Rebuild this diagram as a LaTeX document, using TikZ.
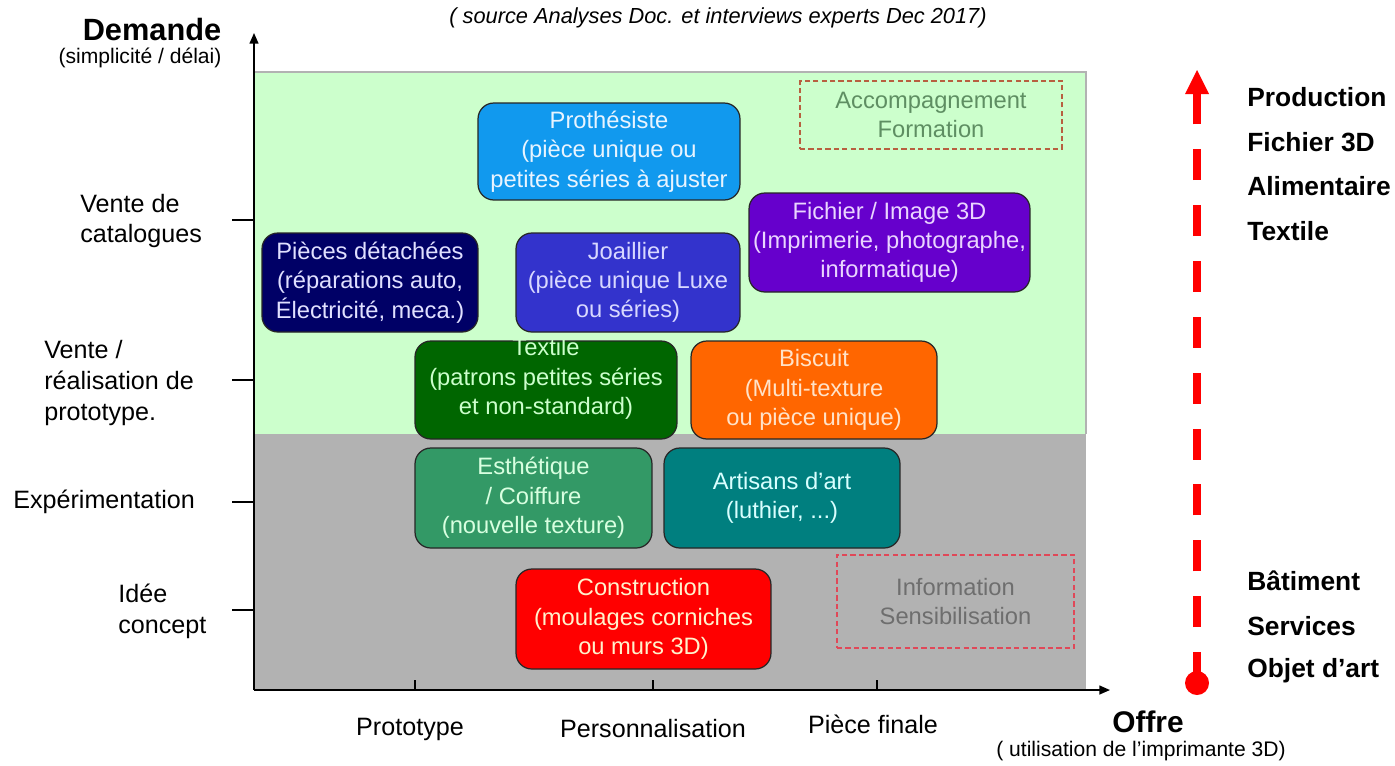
\documentclass[tikz,border=0pt]{standalone}
\usepackage{fontspec}
\setmainfont{Liberation Sans}
\usetikzlibrary{arrows.meta}
\definecolor{bggreen}{HTML}{CCFFCC}
\definecolor{bggray}{HTML}{B2B2B2}
\definecolor{cProt}{HTML}{1199EE}
\definecolor{cPiec}{HTML}{000066}
\definecolor{cJoai}{HTML}{3333CC}
\definecolor{cFich}{HTML}{6600CC}
\definecolor{cText}{HTML}{006600}
\definecolor{cBisc}{HTML}{FF6600}
\definecolor{cEsth}{HTML}{339966}
\definecolor{cArti}{HTML}{007F7F}
\definecolor{cCons}{HTML}{FF0000}
\definecolor{tProt}{HTML}{E8F4FF}
\definecolor{tPiec}{HTML}{E0E0FF}
\definecolor{tJoai}{HTML}{D8D8FF}
\definecolor{tFich}{HTML}{EAD5FF}
\definecolor{tText}{HTML}{CCFFCC}
\definecolor{tBisc}{HTML}{FFE2C8}
\definecolor{tEsth}{HTML}{D8FFE0}
\definecolor{tArti}{HTML}{D8FFFF}
\definecolor{tCons}{HTML}{FFF2CC}
\definecolor{accText}{HTML}{5E8E62}
\definecolor{accLine}{HTML}{B86040}
\definecolor{infText}{HTML}{6E6E6E}
\definecolor{infLine}{HTML}{E04858}
\definecolor{rArrow}{HTML}{FF0000}
\newcommand\bxfont{\fontsize{13.5}{16.7}\selectfont}
\newcommand\axfont{\fontsize{14.3}{17.5}\selectfont}
\newcommand\rtfont{\fontsize{15}{18}\selectfont\bfseries}
\begin{document}
\begin{tikzpicture}[x=0.02cm,y=-0.02cm,
  box/.style={draw=black!85, line width=0.7pt, rounded corners=9pt, align=center, inner sep=0pt, font=\bxfont},
  dbox/.style={draw, dash pattern=on 3pt off 1.8pt, line width=0.8pt, align=center, inner sep=0pt, font=\bxfont},
  axlabel/.style={font=\axfont, align=left, inner sep=0pt},
  rlabel/.style={font=\rtfont, anchor=west, inner sep=0pt},
  axisline/.style={line width=0.9pt, -{Triangle[length=6pt,width=5pt]}},
  tickline/.style={line width=0.9pt},
  redline/.style={rArrow, line width=4.5pt}]
\useasboundingbox (0,0) rectangle (1395,765);

% background zones
\fill[bggray] (254,434) rectangle (1086,690);
\filldraw[fill=bggreen, draw=gray!60, line width=0.6pt] (254,434) -- (254,72) -- (1086,72) -- (1086,434);

% axes
\coordinate (o) at (254,690);
\coordinate (ytip) at (254,33);
\coordinate (xtip) at (1110,690);
\draw[axisline] (o) -- (ytip);
\draw[axisline] (o) -- (xtip);

% y ticks
\foreach \yy in {220,380,502,610} \draw[tickline] (232,\yy) -- (254,\yy);
% x ticks
\foreach \xx in {415,653,877} \draw[tickline] (\xx,680) -- (\xx,690);

% title
\node[font=\fontsize{12.4}{14}\selectfont\itshape, inner sep=0pt] (title) at (718,18) {( source Analyses Doc. et interviews experts Dec 2017)};

% y labels
\node[font=\fontsize{17.5}{20}\selectfont\bfseries, inner sep=0pt] (dem) at (152,30) {Demande};
\node[font=\fontsize{12}{14}\selectfont, inner sep=0pt] (demsub) at (140,58) {(simplicité / délai)};
\node[axlabel, anchor=west] (l1) at (80,221) {Vente de\\catalogues};
\node[axlabel, anchor=west] (l2) at (44,383) {Vente /\\réalisation de\\prototype.};
\node[axlabel, anchor=west] (l3) at (13,502) {Expérimentation};
\node[axlabel, anchor=west] (l4) at (118,611) {Idée\\concept};

% x labels
\node[axlabel] (p1) at (410,729) {Prototype};
\node[axlabel] (p2) at (653,729) {Personnalisation};
\node[axlabel] (p3) at (873,724) {Pièce finale};
\node[font=\fontsize{17}{20}\selectfont\bfseries, inner sep=0pt] (offre) at (1148,722) {Offre};
\node[font=\fontsize{12}{14}\selectfont, inner sep=0pt] (offsub) at (1141,751) {( utilisation de l'imprimante 3D)};

% boxes
\node[box, fill=cProt, text=tProt, minimum width=5.24cm, minimum height=1.94cm] (prot) at (609,151.5) {Prothésiste\\(pièce unique ou\\petites séries à ajuster};
\node[box, fill=cPiec, text=tPiec, minimum width=4.32cm, minimum height=1.98cm] (piec) at (370,282.5) {Pièces détachées\\(réparations auto,\\Électricité, meca.)};
\node[box, fill=cJoai, text=tJoai, minimum width=4.48cm, minimum height=1.98cm] (joai) at (628,282.5) {Joaillier\\(pièce unique Luxe\\ou séries)};
\node[box, fill=cFich, text=tFich, minimum width=5.62cm, minimum height=1.98cm] (fich) at (889.5,242.5) {Fichier / Image 3D\\(Imprimerie, photographe,\\informatique)};
\node[dbox, draw=accLine, text=accText, minimum width=5.24cm, minimum height=1.36cm] (acc) at (931,115) {Accompagnement\\Formation};
\node[box, fill=cText, minimum width=5.24cm, minimum height=1.96cm] (text) at (546,390) {};
\node[font=\bxfont, text=tText, align=center, inner sep=0pt] (texttxt) at (546,379) {Textile\\(patrons petites séries\\et non-standard)};
\node[box, fill=cBisc, text=tBisc, minimum width=4.92cm, minimum height=1.96cm] (bisc) at (814,390) {Biscuit\\(Multi-texture\\ou pièce unique)};
\node[box, fill=cEsth, text=tEsth, minimum width=4.74cm, minimum height=2.0cm] (esth) at (533.5,498) {Esthétique\\/ Coiffure\\(nouvelle texture)};
\node[box, fill=cArti, text=tArti, minimum width=4.72cm, minimum height=2.0cm] (arti) at (782,498) {Artisans d'art\\(luthier, ...)};
\node[box, fill=cCons, text=tCons, minimum width=5.1cm, minimum height=2.0cm] (cons) at (643.5,619) {Construction\\(moulages corniches\\ou murs 3D)};
\node[dbox, draw=infLine, text=infText, minimum width=4.74cm, minimum height=1.86cm] (info) at (955.5,601.5) {Information\\Sensibilisation};

% red dashed arrow
\coordinate (rb) at (1197,683);
\coordinate (rt) at (1197,93);
\coordinate (rtip) at (1197,70);
\draw[redline, dash pattern=on 17.6pt off 14.2pt] (rb) -- (rt);
\fill[rArrow] (rtip) -- ++(-12,24) -- ++(24,0) -- cycle;
\fill[rArrow] (rb) circle[radius=0.24cm];

% right labels
\node[rlabel] (r1) at (1247,97) {Production};
\node[rlabel] (r2) at (1247,142) {Fichier 3D};
\node[rlabel] (r3) at (1247,186) {Alimentaire};
\node[rlabel] (r4) at (1247,231) {Textile};
\node[rlabel] (r5) at (1247,581) {Bâtiment};
\node[rlabel] (r6) at (1247,626) {Services};
\node[rlabel] (r7) at (1247,671) {Objet d’art};
\end{tikzpicture}
\end{document}
